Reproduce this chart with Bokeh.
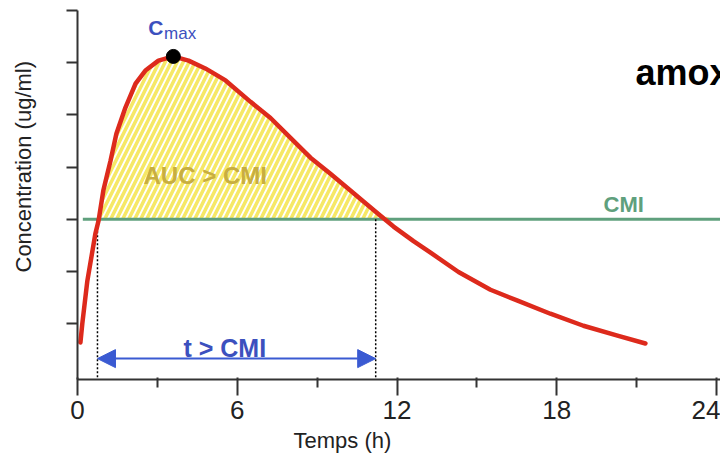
import numpy as np
from bokeh.plotting import figure
from bokeh.models import FixedTicker, Label, Arrow, NormalHead, Range1d, Title
from bokeh.embed import file_html
from bokeh.resources import INLINE

# ---- data ----
time_h = [0.11, 0.18, 0.37, 0.67, 0.79, 0.97, 1.24, 1.46, 1.80, 2.18, 2.55, 3.04,
          3.60, 4.17, 4.80, 5.56, 6.50, 7.25, 8.00, 8.75, 9.50, 10.25, 10.74,
          11.30, 11.87, 12.62, 13.26, 14.31, 15.51, 16.53, 17.76, 19.00, 20.28, 21.33]
conc = [0.64, 1.00, 1.82, 2.72, 2.97, 3.55, 4.12, 4.64, 5.14, 5.60, 5.85, 6.04,
        6.12, 6.04, 5.89, 5.66, 5.25, 4.94, 4.56, 4.18, 3.87, 3.55, 3.34,
        3.10, 2.86, 2.58, 2.36, 1.99, 1.65, 1.44, 1.19, 0.96, 0.77, 0.62]
cmi = 3.0
cmax_t = 3.60
cmax_c = 6.12
t_above = [0.75, 11.2]          # dotted marks of t > CMI
x_ticks = [0, 6, 12, 18, 24]
x_minor = [3, 9, 15, 21]
y_ticks = [1, 2, 3, 4, 5, 6, 7]

RED = "#dd2a1c"
GREEN = "#5fa07d"
YELLOW = "#f6e866"
OLIVE = "#c8ae40"
BLUE = "#3c50be"
ARROW_BLUE = "#3a5ad2"
AXIS = "#333333"

p = figure(width=720, height=457, output_backend="svg", toolbar_location=None,
           x_range=Range1d(0, 24.15), y_range=Range1d(-0.07, 7.0),
           min_border_left=77, min_border_right=0, min_border_top=10,
           min_border_bottom=78)
p.outline_line_color = None
p.xgrid.grid_line_color = None
p.ygrid.grid_line_color = None

# hatched AUC > CMI region
t_arr = np.array(time_h)
c_arr = np.array(conc)
mask = (t_arr >= 0.67) & (t_arr <= 11.87)
p.varea(x=t_arr[mask], y1=np.full(mask.sum(), cmi), y2=np.maximum(c_arr[mask], cmi),
        fill_color=None, fill_alpha=0, hatch_pattern="/", hatch_color=YELLOW,
        hatch_scale=12, hatch_weight=3.5)

# CMI line
p.line(x=[0.2, 24.25], y=[cmi, cmi], line_color=GREEN, line_width=3)

# dotted verticals
p.segment(x0=t_above, y0=[cmi, cmi], x1=t_above, y1=[-0.07, -0.07],
          line_color="black", line_width=1.5, line_dash="2 2")

# concentration curve
p.line(x=time_h, y=conc, line_color=RED, line_width=4.5, line_join="round",
       line_cap="round")

# Cmax point
p.scatter(x=[cmax_t], y=[cmax_c], size=14, fill_color="black", line_color="black")

# t > CMI arrow
head_s = NormalHead(size=18, fill_color=ARROW_BLUE, line_color=ARROW_BLUE)
head_e = NormalHead(size=18, fill_color=ARROW_BLUE, line_color=ARROW_BLUE)
p.add_layout(Arrow(start=head_s, end=head_e, x_start=t_above[0], x_end=t_above[1],
                   y_start=0.33, y_end=0.33, line_color=ARROW_BLUE, line_width=2))

# axes
xa = p.xaxis[0]
xa.ticker = FixedTicker(ticks=x_ticks, minor_ticks=x_minor)
xa.axis_line_width = 2
xa.axis_line_color = AXIS
xa.major_tick_line_color = AXIS
xa.major_tick_line_width = 2
xa.major_tick_out = 16
xa.major_tick_in = 2
xa.minor_tick_line_color = AXIS
xa.minor_tick_line_width = 2
xa.minor_tick_out = 8
xa.minor_tick_in = 2
xa.major_label_text_font = "Liberation Sans"
xa.major_label_text_font_size = "26px"
xa.major_label_text_color = "#222222"
xa.major_label_standoff = 5

ya = p.yaxis[0]
ya.ticker = FixedTicker(ticks=y_ticks, minor_ticks=[])
ya.axis_line_width = 2
ya.axis_line_color = AXIS
ya.major_tick_line_color = AXIS
ya.major_tick_line_width = 2
ya.major_tick_out = 11
ya.major_tick_in = 0
ya.minor_tick_line_color = None
ya.major_label_overrides = {k: "" for k in y_ticks}
ya.major_label_standoff = 14

# axis titles as side titles
p.add_layout(Title(text="Temps (h)", text_font="Liberation Sans",
                   text_font_size="22px", text_font_style="normal",
                   text_color="#222222", align="left", offset=216, standoff=8,
                   vertical_align="bottom"),
             "below")
# second empty line keeps the label near the left edge, as in the reference
p.add_layout(Title(text="Concentration (ug/ml)\n", text_font="Liberation Sans",
                   text_font_size="22px", text_font_style="normal",
                   text_color="#222222", align="left", offset=107, standoff=8,
                   vertical_align="top"),
             "left")

# texts inside the frame
def lab(x, y, text, size, color, bold=False):
    p.add_layout(Label(x=x, y=y, text=text, text_font="Liberation Sans",
                       text_font_size=size, text_color=color,
                       text_font_style="bold" if bold else "normal",
                       text_align="left", text_baseline="alphabetic"))

lab(2.66, 6.67, "C", "21px", BLUE, bold=True)
lab(3.25, 6.55, "max", "17px", BLUE)
lab(2.48, 3.84, "AUC > CMI", "24px", OLIVE, bold=True)
lab(3.98, 0.54, "t > CMI", "25px", BLUE, bold=True)
lab(19.76, 3.28, "CMI", "22px", GREEN, bold=True)
lab(20.96, 5.81, "amoxicilline", "36px", "black", bold=True)

open("out.html", "w").write(file_html(p, INLINE))
